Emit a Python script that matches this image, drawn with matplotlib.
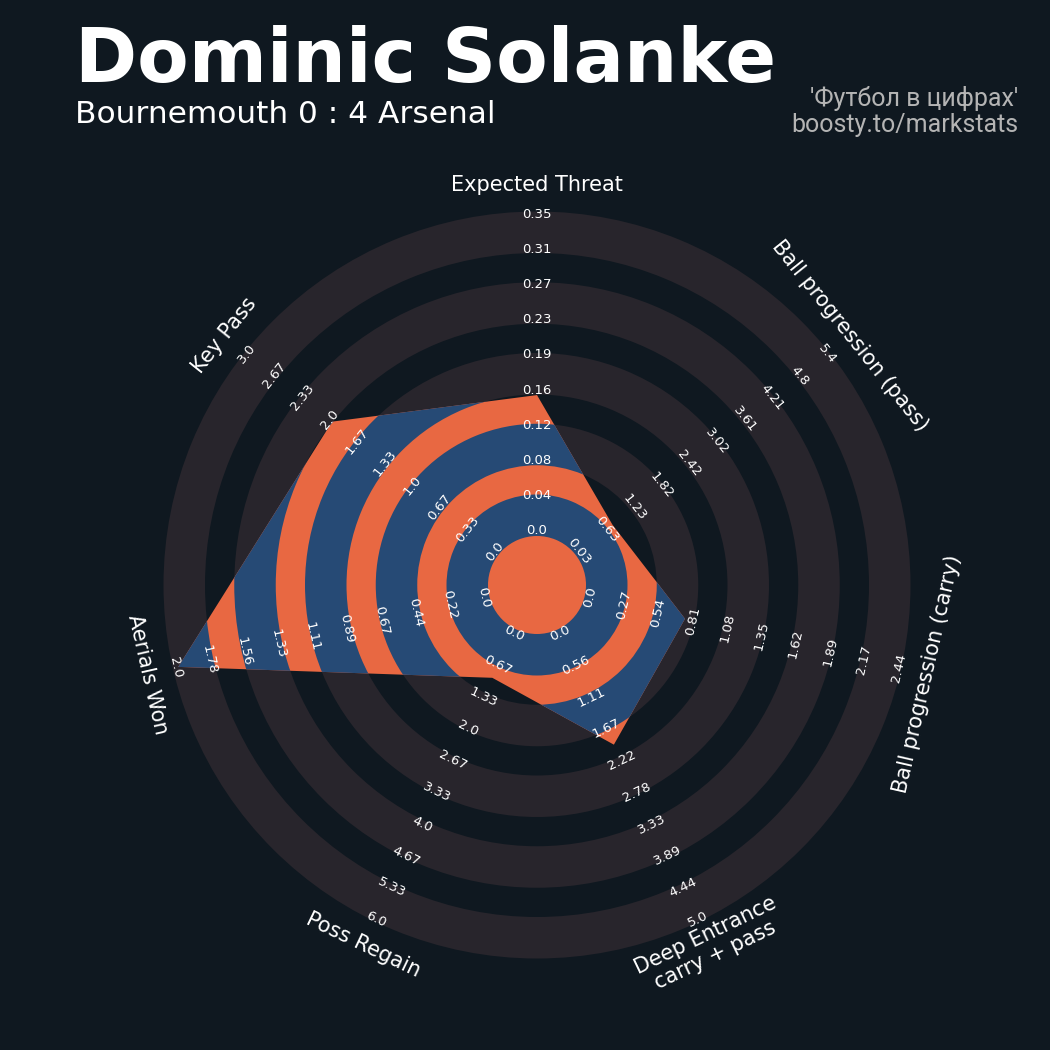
import numpy as np
import matplotlib
matplotlib.use("Agg")
import matplotlib.pyplot as plt
from matplotlib import patches

# Daten
params = ["Expected Threat", "Ball progression (pass)", "Ball progression (carry)",
          "Deep Entrance\ncarry + pass", "Poss Regain", "Aerials Won", "Key Pass"]
low = [0.0, 0.034, 0.0, 0.0, 0.0, 0.0, 0.0]
high = [0.35, 5.4, 2.436, 5.0, 6.0, 2.0, 3.0]
values = [0.154, 0.82, 0.78, 2.0, 1.0, 2.0, 2.0]

player = "Dominic Solanke"
match = "Bournemouth 0 : 4 Arsenal"
credit1 = "'Футбол в цифрах'"
credit2 = "boosty.to/markstats"

# Farben
BG = "#0f1820"
RING = "#28252c"
ORANGE = "#e86842"
BLUE = "#264a75"

# Geometrie (Pixel relativ zur Mitte)
ring_edges = [(49, 90.5), (119.75, 161.25), (190.5, 232), (261.25, 302.75), (332, 373.5)]
r_min, r_span = 50, 318
label_r = np.linspace(54, 371, 10)
param_r = 400

fig = plt.figure(figsize=(10.5, 10.5), dpi=100, facecolor=BG)
ax = fig.add_axes([0, 0, 1, 1])
ax.set_facecolor(BG)
ax.set_xlim(-537, 513)
ax.set_ylim(-465, 585)
ax.set_aspect("equal")
ax.axis("off")

# graue Ringe
for r_in, r_out in ring_edges:
    ax.add_patch(patches.Wedge((0, 0), r_out, 0, 360, width=r_out - r_in,
                               facecolor=RING, edgecolor="none", zorder=1))

# Radar-Polygon
n = len(params)
theta = np.deg2rad(90 - np.arange(n) * 360 / n)
frac = (np.array(values) - np.array(low)) / (np.array(high) - np.array(low))
rad = r_min + r_span * frac
verts = np.column_stack([rad * np.cos(theta), rad * np.sin(theta)])
poly = patches.Polygon(verts, closed=True, facecolor=ORANGE, edgecolor="none", zorder=2)
ax.add_patch(poly)

for r_in, r_out in ring_edges:
    w = patches.Wedge((0, 0), r_out, 0, 360, width=r_out - r_in,
                      facecolor=BLUE, edgecolor="none", zorder=3)
    ax.add_patch(w)
    w.set_clip_path(poly)


def text_rot(t):
    rot = np.rad2deg(t) - 90
    rot = (rot + 180) % 360 - 180
    if rot > 90:
        rot -= 180
    elif rot < -90:
        rot += 180
    return rot


# Achsenbeschriftungen + Skalen
for i in range(n):
    t = theta[i]
    rot = text_rot(t)
    ax.text(param_r * np.cos(t), param_r * np.sin(t), params[i], color="white",
            fontsize=15, ha="center", va="center", rotation=rot,
            rotation_mode="anchor", zorder=5, linespacing=1.1)
    ticks = np.linspace(low[i], high[i], 10)
    for r, v in zip(label_r, ticks):
        ax.text(r * np.cos(t), r * np.sin(t), str(round(v, 2)), color="white",
                fontsize=9.5, ha="center", va="center", rotation=rot,
                rotation_mode="anchor", zorder=5)

# Titel
fig.text(75 / 1050, 1 - 82 / 1050, player, color="white", fontsize=54,
         fontweight="bold", ha="left", va="baseline")
fig.text(75 / 1050, 1 - 123 / 1050, match, color="white", fontsize=22.5,
         ha="left", va="baseline")
fig.text(1018 / 1050, 1 - 106 / 1050, credit1, color="#b4b4b4", fontsize=18,
         family="Roboto", ha="right", va="baseline")
fig.text(1018 / 1050, 1 - 132 / 1050, credit2, color="#b4b4b4", fontsize=18,
         family="Roboto", ha="right", va="baseline")

fig.savefig("out.png", dpi=100, facecolor=BG)
